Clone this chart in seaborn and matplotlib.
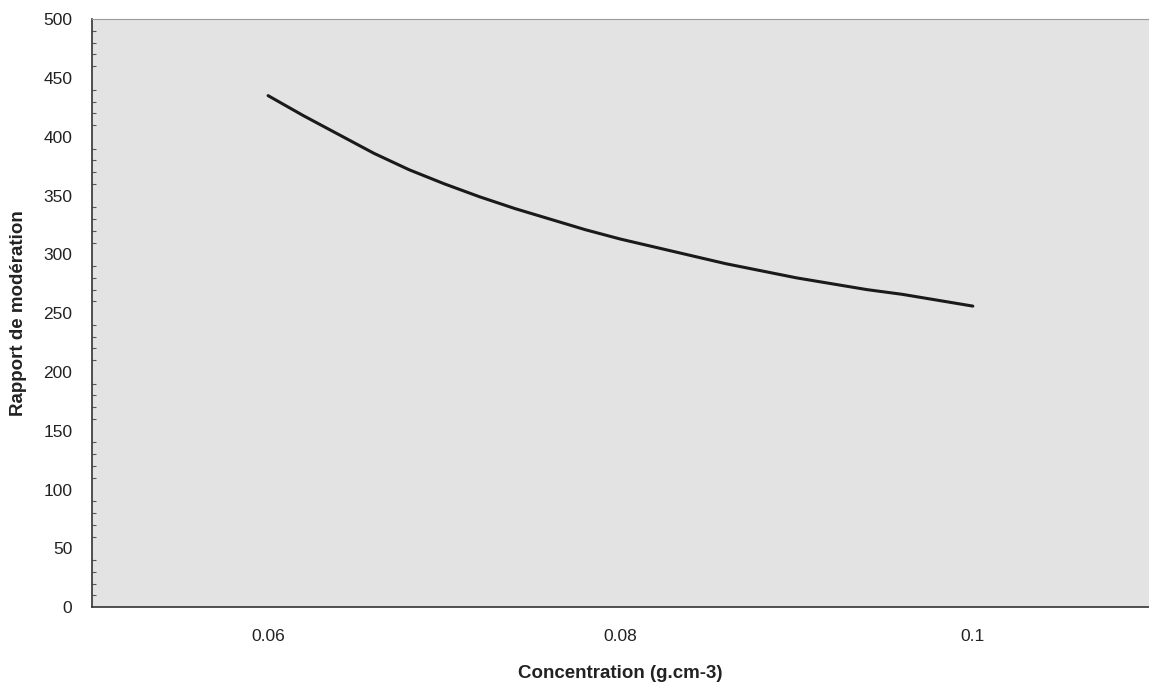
import matplotlib
matplotlib.use("Agg")
import matplotlib.pyplot as plt
import seaborn as sns
import pandas as pd
from matplotlib.ticker import MultipleLocator, FixedLocator

concentration = [0.060, 0.062, 0.064, 0.066, 0.068, 0.070, 0.072, 0.074, 0.076, 0.078,
                 0.080, 0.082, 0.084, 0.086, 0.088, 0.090, 0.092, 0.094, 0.096, 0.098, 0.100]
rapport = [435, 418, 402, 386, 372, 360, 349, 339, 330, 321,
           313, 306, 299, 292, 286, 280, 275, 270, 266, 261, 256]
x_ticks = [0.06, 0.08, 0.1]
x_tick_labels = ["0.06", "0.08", "0.1"]

df = pd.DataFrame({"Concentration": concentration, "Rapport": rapport})

sns.set_style("white")
plt.rcParams["font.family"] = ["Liberation Sans", "DejaVu Sans"]

fig = plt.figure(figsize=(11.49, 6.86), dpi=100)
ax = fig.add_axes([0.080, 0.115, 0.920, 0.857])
ax.set_facecolor("#e3e3e3")

sns.lineplot(data=df, x="Concentration", y="Rapport", ax=ax, color="#1a1a1a", linewidth=2.2)

ax.set_xlim(0.05, 0.11)
ax.set_ylim(0, 500)
ax.xaxis.set_major_locator(FixedLocator(x_ticks))
ax.set_xticklabels(x_tick_labels)
ax.yaxis.set_major_locator(MultipleLocator(50))
ax.yaxis.set_minor_locator(MultipleLocator(10))

ax.tick_params(axis="y", which="major", direction="inout", length=8, width=1, color="#333333",
               labelsize=12.5, labelcolor="#222222", pad=10)
ax.tick_params(axis="y", which="minor", direction="in", length=3, width=0.8, color="#555555", left=True)
ax.tick_params(axis="x", which="major", direction="in", length=4, width=1, color="#555555",
               labelsize=12.5, labelcolor="#222222", pad=16)

for side in ["left", "bottom"]:
    ax.spines[side].set_color("#333333")
    ax.spines[side].set_linewidth(1.2)
ax.spines["top"].set_color("#9a9a9a")
ax.spines["top"].set_linewidth(0.8)
ax.spines["right"].set_visible(False)

ax.set_xlabel("Concentration (g.cm-3)", fontsize=13.5, fontweight="bold", color="#222222", labelpad=15)
ax.set_ylabel("Rapport de modération", fontsize=13.5, fontweight="bold", color="#222222", labelpad=12)

fig.savefig("out.png", dpi=100)
